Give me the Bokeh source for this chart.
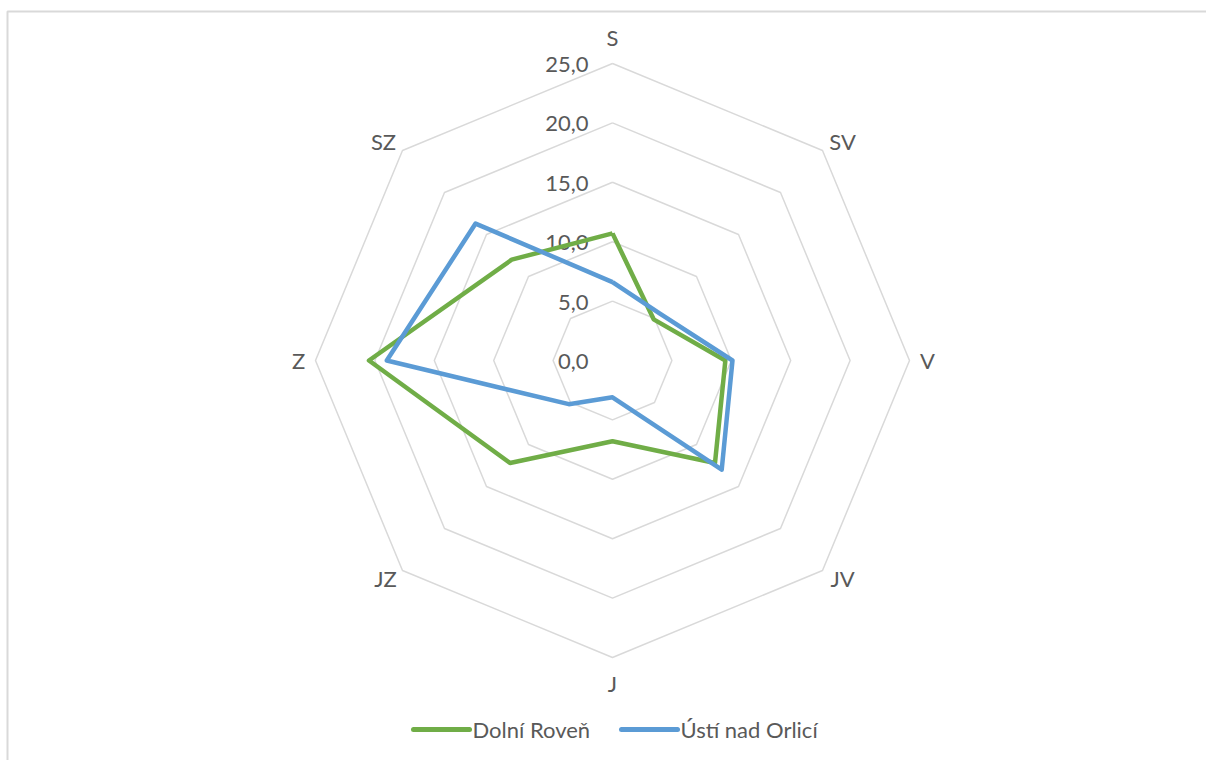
import math
from bokeh.plotting import figure
from bokeh.models import Range1d, ColumnDataSource
from bokeh.core.properties import value
from bokeh.embed import file_html
from bokeh.resources import INLINE

# Wind-direction frequencies (%) for two stations
directions = ["S", "SV", "V", "JV", "J", "JZ", "Z", "SZ"]
dolni_roven = [10.7, 4.9, 9.5, 12.2, 6.8, 12.2, 20.5, 12.0]
usti_nad_orlici = [6.6, 5.6, 10.1, 13.0, 3.1, 5.2, 19.0, 16.3]
series_names = ["Dolní Roveň", "Ústí nad Orlicí"]
series_colors = ["#70AD47", "#5B9BD5"]
ring_values = [0, 5, 10, 15, 20, 25]
ring_labels = ["0,0", "5,0", "10,0", "15,0", "20,0", "25,0"]

W, H = 1206, 760
CX, CY = 612, 360          # centre of the radar in screen pixels
R_MAX = 297                # pixel radius of the outermost ring
K = R_MAX / ring_values[-1]  # pixels per data unit

FONT = value("Lato")
TEXT_COLOR = "#595959"
GRID_COLOR = "#D9D9D9"
FS = "22px"


def px(x, y):
    """Screen pixel -> data coordinates."""
    return (x - CX) / K, (CY - y) / K


def polar(r, i, n=len(directions)):
    a = math.radians(90 - 360.0 * i / n)
    return r * math.cos(a), r * math.sin(a)


p = figure(width=W, height=H, output_backend="svg", toolbar_location=None,
           x_axis_type=None, y_axis_type=None, min_border=0,
           x_range=Range1d(-CX / K, (W - CX) / K),
           y_range=Range1d(-(H - CY) / K, CY / K))
p.grid.visible = False
p.outline_line_color = None
p.background_fill_color = "white"
p.border_fill_color = "white"

# chart area frame (top and left edges are visible)
x0, y0 = px(7, 11)
x1, y1 = px(W + 5, H + 5)
p.line([x1, x0, x0], [y0, y0, y1], line_color=GRID_COLOR, line_width=2)

# octagonal grid rings
for rv in ring_values[1:]:
    pts = [polar(rv, i) for i in range(len(directions) + 1)]
    p.line([q[0] for q in pts], [q[1] for q in pts],
           line_color=GRID_COLOR, line_width=1.5)

# value labels along the north axis
p.text(x=[0] * len(ring_values), y=ring_values, text=ring_labels,
       x_offset=-24, y_offset=1, text_align="right", text_baseline="middle",
       text_font=FONT, text_font_size=FS, text_color=TEXT_COLOR)

# direction labels, set just outside the outer ring's vertices
outer = [polar(ring_values[-1], i) for i in range(len(directions))]
label_dx = [0, 20, 18, 20, 0, -17, -17, -19]
label_dy = [-26, -9, 0, 8, 26, 8, 0, -9]
p.text(x=[q[0] for q in outer], y=[q[1] for q in outer], text=directions,
       x_offset=label_dx, y_offset=label_dy,
       text_align="center", text_baseline="middle",
       text_font=FONT, text_font_size=FS, text_color=TEXT_COLOR)

# data series
for vals, col in zip([dolni_roven, usti_nad_orlici], series_colors):
    pts = [polar(v, i) for i, v in enumerate(vals)]
    pts.append(pts[0])
    p.line([q[0] for q in pts], [q[1] for q in pts], line_color=col,
           line_width=4.5, line_join="round")

# legend at the bottom
leg_y = 729
swatches = [(413, 469), (621, 677)]
for (sx0, sx1), name, col in zip(swatches, series_names, series_colors):
    a = px(sx0, leg_y)
    b = px(sx1, leg_y)
    p.line([a[0], b[0]], [a[1], b[1]], line_color=col, line_width=5,
           line_cap="round")
    t = px(sx1 + 3, leg_y)
    p.text(x=[t[0]], y=[t[1]], text=[name], text_align="left",
           text_baseline="middle", text_font=FONT, text_font_size=FS,
           text_color=TEXT_COLOR)

open("out.html", "w").write(file_html(p, INLINE))
